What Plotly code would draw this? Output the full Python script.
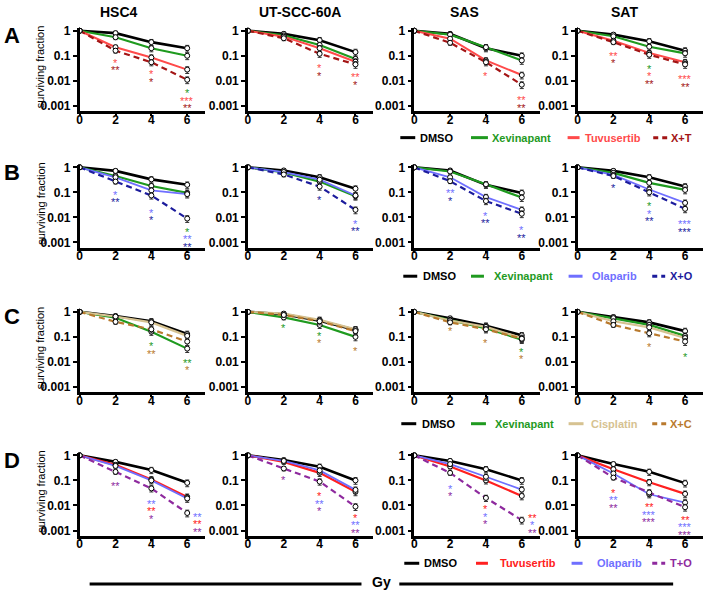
import plotly.graph_objects as go

W, H = 708, 592
FONT = "Liberation Sans, Arial, sans-serif"

DOSES = [0, 2, 4, 6]
CELL_LINES = ["HSC4", "UT-SCC-60A", "SAS", "SAT"]
ROW_LABELS = ["A", "B", "C", "D"]
Y_TICKS = [1, 0.1, 0.01, 0.001]
Y_TICKTEXT = ["1", "0.1", "0.01", "0.001"]
X_TICKS = [0, 2, 4, 6]

COLORS = {
    "K": "#000000", "G": "#1f9a1f", "R": "#ff4a4a", "DR": "#a31515",
    "LB": "#6f6fff", "DB": "#1c1c9c", "TN": "#d6c291", "BR": "#b97a2e",
    "RD": "#ff2020", "PU": "#8e2a9e",
}

# ---- data: surviving fraction per panel (columns = cell lines) ----
# Row A
A_DMSO = [[1, 0.8, 0.35, 0.2], [1, 0.75, 0.42, 0.14], [1, 0.75, 0.2, 0.1], [1, 0.7, 0.38, 0.16]]
A_XEV = [[1, 0.55, 0.2, 0.1], [1, 0.65, 0.27, 0.075], [1, 0.7, 0.22, 0.065], [1, 0.6, 0.23, 0.125]]
A_TUV = [[1, 0.22, 0.085, 0.028], [1, 0.58, 0.2, 0.058], [1, 0.48, 0.065, 0.017], [1, 0.4, 0.13, 0.055]]
A_XT = [[1, 0.16, 0.055, 0.011], [1, 0.5, 0.12, 0.045], [1, 0.33, 0.055, 0.007], [1, 0.35, 0.11, 0.045]]
# Row B
B_DMSO = [[1, 0.72, 0.33, 0.2], [1, 0.75, 0.4, 0.14], [1, 0.75, 0.2, 0.095], [1, 0.72, 0.4, 0.17]]
B_XEV = [[1, 0.45, 0.18, 0.095], [1, 0.62, 0.27, 0.07], [1, 0.68, 0.21, 0.062], [1, 0.6, 0.24, 0.125]]
B_OLA = [[1, 0.4, 0.12, 0.085], [1, 0.65, 0.32, 0.075], [1, 0.4, 0.065, 0.02], [1, 0.5, 0.13, 0.038]]
B_XO = [[1, 0.27, 0.075, 0.009], [1, 0.52, 0.17, 0.02], [1, 0.28, 0.045, 0.014], [1, 0.45, 0.1, 0.022]]
# Row C
C_DMSO = [[1, 0.68, 0.42, 0.13], [1, 0.8, 0.44, 0.19], [1, 0.55, 0.28, 0.115], [1, 0.62, 0.38, 0.17]]
C_XEV = [[1, 0.58, 0.16, 0.034], [1, 0.6, 0.3, 0.1], [1, 0.48, 0.22, 0.078], [1, 0.56, 0.3, 0.11]]
C_CIS = [[1, 0.65, 0.38, 0.11], [1, 0.85, 0.48, 0.2], [1, 0.45, 0.25, 0.09], [1, 0.42, 0.24, 0.09]]
C_XC = [[1, 0.4, 0.2, 0.065], [1, 0.75, 0.42, 0.17], [1, 0.38, 0.2, 0.085], [1, 0.3, 0.14, 0.065]]
# Row D
D_DMSO = [[1, 0.55, 0.26, 0.08], [1, 0.65, 0.35, 0.1], [1, 0.6, 0.28, 0.1], [1, 0.45, 0.22, 0.078]]
D_TUV = [[1, 0.42, 0.11, 0.022], [1, 0.55, 0.2, 0.035], [1, 0.36, 0.1, 0.024], [1, 0.28, 0.085, 0.029]]
D_OLA = [[1, 0.38, 0.1, 0.019], [1, 0.6, 0.25, 0.042], [1, 0.45, 0.14, 0.043], [1, 0.19, 0.028, 0.013]]
D_TO = [[1, 0.22, 0.048, 0.005], [1, 0.3, 0.09, 0.009], [1, 0.2, 0.02, 0.0026], [1, 0.13, 0.033, 0.0085]]

ERR_REL = [0, 0.2, 0.28, 0.3]

# series per row: (legend label, colour key, dash, width, data)
ROWS = [
    [("DMSO", "K", "solid", 2.6, A_DMSO), ("Xevinapant", "G", "solid", 2.2, A_XEV),
     ("Tuvusertib", "R", "solid", 2.0, A_TUV), ("X+T", "DR", "dash", 2.2, A_XT)],
    [("DMSO", "K", "solid", 2.6, B_DMSO), ("Xevinapant", "G", "solid", 2.2, B_XEV),
     ("Olaparib", "LB", "solid", 1.8, B_OLA), ("X+O", "DB", "dash", 2.2, B_XO)],
    [("DMSO", "K", "solid", 2.6, C_DMSO), ("Xevinapant", "G", "solid", 2.2, C_XEV),
     ("Cisplatin", "TN", "solid", 2.2, C_CIS), ("X+C", "BR", "dash", 2.2, C_XC)],
    [("DMSO", "K", "solid", 2.6, D_DMSO), ("Tuvusertib", "RD", "solid", 2.2, D_TUV),
     ("Olaparib", "LB", "solid", 1.8, D_OLA), ("T+O", "PU", "dash", 2.2, D_TO)],
]

# significance stars: per panel list of (dose, log10 y of first star, [(text, colour key), ...])
STARS = [
    [
        [(2, -1.19, [("*", "R"), ("**", "DR")]), (4, -1.66, [("*", "R"), ("*", "DR")]),
         (6, -2.41, [("*", "G"), ("***", "R"), ("**", "DR")])],
        [(4, -1.41, [("*", "R"), ("*", "DR")]), (6, -1.77, [("**", "R"), ("*", "DR")])],
        [(4, -1.73, [("*", "R")]), (6, -2.69, [("**", "R"), ("**", "DR")])],
        [(2, -0.91, [("**", "R"), ("*", "DR")]), (4, -1.43, [("*", "G"), ("*", "R"), ("**", "DR")]),
         (6, -1.86, [("***", "R"), ("**", "DR")])],
    ],
    [
        [(2, -1.01, [("*", "LB"), ("**", "DB")]), (4, -1.74, [("*", "LB"), ("*", "DB")]),
         (6, -2.5, [("*", "G"), ("**", "LB"), ("**", "DB")])],
        [(4, -1.23, [("*", "DB")]), (6, -2.17, [("*", "LB"), ("**", "DB")])],
        [(2, -0.96, [("**", "LB"), ("*", "DB")]), (4, -1.85, [("*", "LB"), ("**", "DB")]),
         (6, -2.44, [("*", "LB"), ("**", "DB")])],
        [(2, -0.75, [("*", "DB")]), (4, -1.48, [("*", "G"), ("*", "LB"), ("**", "DB")]),
         (6, -2.2, [("***", "LB"), ("***", "DB")])],
    ],
    [
        [(4, -1.3, [("*", "G"), ("**", "BR")]), (6, -1.96, [("**", "G"), ("*", "BR")])],
        [(2, -0.55, [("*", "G")]), (4, -0.88, [("*", "G"), ("*", "BR")]), (6, -1.47, [("*", "BR")])],
        [(2, -0.68, [("*", "BR")]), (4, -1.15, [("*", "BR")]), (6, -1.51, [("*", "G"), ("*", "BR")])],
        [(4, -1.34, [("*", "BR")]), (6, -1.74, [("*", "G")])],
    ],
    [
        [(2, -1.15, [("**", "PU")]), (4, -1.85, [("**", "LB"), ("**", "RD"), ("*", "PU")]),
         (6.55, -2.37, [("**", "LB"), ("**", "RD"), ("**", "PU")])],
        [(2, -0.9, [("*", "PU")]), (4, -1.55, [("*", "RD"), ("**", "LB"), ("*", "PU")]),
         (6, -2.42, [("*", "RD"), ("**", "LB"), ("**", "PU")])],
        [(2, -1.25, [("*", "LB"), ("*", "PU")]), (4, -2.07, [("*", "RD"), ("*", "LB"), ("*", "PU")]),
         (6.6, -2.42, [("**", "RD"), ("*", "LB"), ("**", "PU")])],
        [(2, -1.41, [("*", "RD"), ("**", "LB"), ("**", "PU")]),
         (4, -2.0, [("**", "RD"), ("***", "LB"), ("***", "PU")]),
         (6, -2.5, [("**", "RD"), ("***", "LB"), ("***", "PU")])],
    ],
]

# ---- layout geometry (pixels) ----
COL_X0 = [77, 246, 413, 577]
PX_PER_GY = 18
ROW_Y1 = [27, 165, 311, 456]   # pixel row of y = 1
DEC = 25.3                     # pixels per decade
Y_RANGE = [-3.22, 0.1]
TITLE_X = [116, 298, 463, 624]
LEG_Y = [135, 275, 424, 565]
LEG_POS = [
    [(399, 414, 417), (470, 487, 489), (567, 579, 582), (653, 667, 669)],
    [(402, 416, 420), (470, 483, 491), (568, 582, 589), (652, 665, 668)],
    [(400, 415, 419), (470, 485, 492), (568, 583, 588), (652, 666, 668)],
    [(403, 418, 421), (475, 487, 497), (571, 582, 595), (652, 665, 668)],
]


def px(x):
    return x / W


def py(y):
    return 1 - y / H


fig = go.Figure()
annotations = []
shapes = []
layout_axes = {}

for r in range(4):
    for c in range(4):
        k = r * 4 + c
        sfx = "" if k == 0 else str(k + 1)
        xa, ya = "x" + sfx, "y" + sfx
        x0 = COL_X0[c]
        top = ROW_Y1[r] - Y_RANGE[1] * DEC
        bot = ROW_Y1[r] - Y_RANGE[0] * DEC
        layout_axes["xaxis" + sfx] = dict(
            domain=[px(x0), px(x0 + 7 * PX_PER_GY)], range=[0, 7], anchor=ya,
            tickvals=X_TICKS, showline=True, linecolor="black", linewidth=2.5,
            ticks="outside", ticklen=2, tickwidth=2, tickcolor="black",
            ticklabelstandoff=-7,
            tickfont=dict(family=FONT, size=12, color="black", weight="bold"),
            showgrid=False, zeroline=False, fixedrange=True)
        layout_axes["yaxis" + sfx] = dict(
            domain=[py(bot), py(top)], type="log", range=Y_RANGE, anchor=xa,
            tickvals=Y_TICKS, ticktext=Y_TICKTEXT, showline=True, linecolor="black",
            linewidth=2.5, ticks="outside", ticklen=4, tickwidth=2, tickcolor="black",
            tickfont=dict(family=FONT, size=12, color="black", weight="bold"),
            showgrid=False, zeroline=False, fixedrange=True)
        # lines
        for (label, ck, dash, lw, data) in ROWS[r]:
            fig.add_trace(go.Scatter(
                x=DOSES, y=data[c], mode="lines", xaxis=xa, yaxis=ya,
                line=dict(color=COLORS[ck], width=lw, dash="6px,4px" if dash == "dash" else "solid"),
                showlegend=False, hoverinfo="skip"))
        # markers with error bars
        for (label, ck, dash, lw, data) in ROWS[r]:
            vals = data[c]
            fig.add_trace(go.Scatter(
                x=DOSES, y=vals, mode="markers", xaxis=xa, yaxis=ya, cliponaxis=False,
                marker=dict(symbol="circle", size=5, color="white", line=dict(color="black", width=1)),
                error_y=dict(type="data", array=[v * e for v, e in zip(vals, ERR_REL)],
                             arrayminus=[v * e for v, e in zip(vals, ERR_REL)],
                             color="#333333", thickness=1, width=2),
                showlegend=False, name=label))
        # stars
        for (dose, ylog, items) in STARS[r][c]:
            for i, (txt, ck) in enumerate(items):
                annotations.append(dict(
                    x=dose, y=ylog, xref=xa, yref=ya, text=txt, showarrow=False,
                    xanchor="center", yanchor="middle", yshift=-2 - 7.5 * i,
                    font=dict(family=FONT, size=11, color=COLORS[ck])))

    # row letter and y-axis title
    annotations.append(dict(x=px(9), y=py(ROW_Y1[r] + 5), xref="paper", yref="paper",
                            text=ROW_LABELS[r], showarrow=False, xanchor="center", yanchor="middle",
                            font=dict(family=FONT, size=22, color="black", weight="bold")))
    annotations.append(dict(x=px(38), y=py(ROW_Y1[r] + 36), xref="paper", yref="paper",
                            text="surviving fraction", showarrow=False, textangle=-90,
                            xanchor="center", yanchor="middle",
                            font=dict(family=FONT, size=11, color="black")))
    # legend
    for (label, ck, dash, lw, data), (lx0, lx1, tx) in zip(ROWS[r], LEG_POS[r]):
        shapes.append(dict(type="line", xref="paper", yref="paper",
                           x0=px(lx0), x1=px(lx1), y0=py(LEG_Y[r]), y1=py(LEG_Y[r]),
                           line=dict(color=COLORS[ck], width=3,
                                     dash="5px,4px" if dash == "dash" else "solid")))
        annotations.append(dict(x=px(tx), y=py(LEG_Y[r]), xref="paper", yref="paper",
                                text=label, showarrow=False, xanchor="left", yanchor="middle",
                                font=dict(family=FONT, size=11, color=COLORS[ck], weight="bold")))

# column titles
for c, name in enumerate(CELL_LINES):
    annotations.append(dict(x=px(TITLE_X[c]), y=py(8), xref="paper", yref="paper",
                            text=name, showarrow=False, xanchor="center", yanchor="middle",
                            font=dict(family=FONT, size=14, color="black", weight="bold")))

# shared x label
annotations.append(dict(x=px(380), y=py(584), xref="paper", yref="paper", text="Gy",
                        showarrow=False, xanchor="center", yanchor="middle",
                        font=dict(family=FONT, size=14, color="black", weight="bold")))
for (a, b) in [(87, 360), (398, 673)]:
    shapes.append(dict(type="line", xref="paper", yref="paper", x0=px(a), x1=px(b),
                       y0=py(586), y1=py(586), line=dict(color="black", width=3)))

fig.update_layout(
    width=W, height=H, margin=dict(l=0, r=0, t=0, b=0),
    paper_bgcolor="white", plot_bgcolor="white", showlegend=False,
    annotations=annotations, shapes=shapes, **layout_axes)

fig.write_html("out.html")
